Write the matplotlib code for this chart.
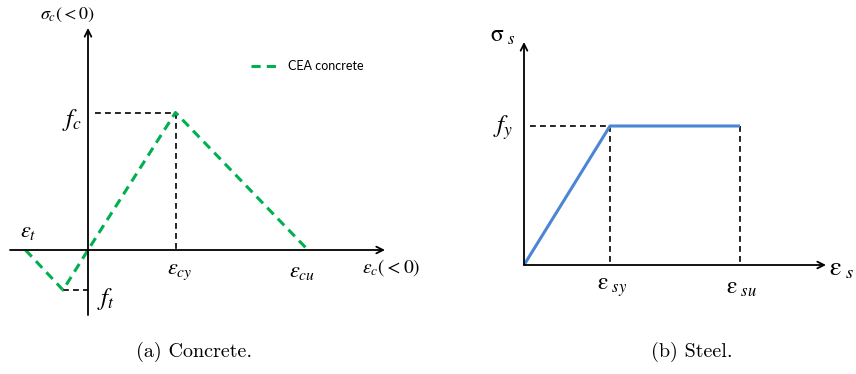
import matplotlib
matplotlib.use("Agg")
import matplotlib.pyplot as plt

plt.rcParams['mathtext.fontset'] = 'stix'

# concrete (CEA) stress-strain curve, arbitrary units
conc_strain = [-2.5, -1.0, 0.0, 3.5, 8.8]
conc_stress = [0.0, -1.6, 0.0, 5.5, 0.0]
eps_cy, f_c = 3.5, 5.5
eps_ft, f_t = -1.0, -1.6

# steel elastic-perfectly plastic curve
steel_strain = [0.0, 3.44, 8.64]
steel_stress = [0.0, 5.56, 5.56]
eps_sy, eps_su, f_y = 3.44, 8.64, 5.56

captions = ["(a) Concrete.", "(b) Steel."]

W, H = 856, 374
fig = plt.figure(figsize=(W / 100, H / 100), dpi=100)

arrow = dict(arrowstyle="->", color="black", lw=1.3, shrinkA=0, shrinkB=0,
             mutation_scale=12)
blk = dict(color="black", lw=1.2, dashes=(3.5, 2.5))


def arrow_axes(ax, x0, x1, y0, y1):
    ax.annotate("", xy=(x1, 0), xytext=(x0, 0), arrowprops=arrow)
    ax.annotate("", xy=(0, y1), xytext=(0, y0), arrowprops=arrow)


# ---- (a) concrete
ax1 = fig.add_axes([0, 44 / H, 430 / W, 330 / H])
ax1.set_xlim(-3.52, 13.68)
ax1.set_ylim(-3.2, 10.0)
ax1.axis("off")
arrow_axes(ax1, -3.12, 11.88, -2.6, 8.88)
ax1.plot([0.28, eps_cy], [f_c, f_c], **blk)
ax1.plot([eps_cy, eps_cy], [f_c, 0], **blk)
ax1.plot([eps_ft, 0], [f_t, f_t], **blk)
ax1.plot(conc_strain, conc_stress, color="#00B050", lw=2.2, dashes=(3, 2),
         label="CEA concrete")
leg = ax1.legend(loc="center left", bbox_to_anchor=(0.557, 0.80), frameon=False,
                 prop={"family": "Lato", "size": 9}, handlelength=2.2)

fs = 13
ax1.text(-0.8, 9.4, r"$\sigma_c(<0)$", fontsize=fs, ha="center", va="center")
ax1.text(-0.64, 5.2, r"$f_c$", fontsize=fs + 5, ha="center", va="center")
ax1.text(-2.4, 0.72, r"$\varepsilon_t$", fontsize=fs + 3, ha="center", va="center")
ax1.text(eps_cy + 0.18, -0.88, r"$\varepsilon_{cy}$", fontsize=fs + 3, ha="center", va="center")
ax1.text(8.56, -0.88, r"$\varepsilon_{cu}$", fontsize=fs + 3, ha="center", va="center")
ax1.text(12.12, -0.72, r"$\varepsilon_c(<0)$", fontsize=fs + 1, ha="center", va="center")
ax1.text(0.72, -1.95, r"$f_t$", fontsize=fs + 5, ha="center", va="center")

# ---- (b) steel
ax2 = fig.add_axes([430 / W, 44 / H, 426 / W, 330 / H])
ax2.set_xlim(-3.76, 13.28)
ax2.set_ylim(-2.6, 10.6)
ax2.axis("off")
arrow_axes(ax2, 0, 12.08, 0, 8.92)
ax2.plot([0.24, eps_sy], [f_y, f_y], **blk)
ax2.plot([eps_sy, eps_sy], [f_y, 0], **blk)
ax2.plot([eps_su, eps_su], [f_y, 0], **blk)
ax2.plot(steel_strain, steel_stress, color="#4A86D4", lw=2.2, solid_capstyle="butt")

ax2.text(-0.84, 9.2, r"$\mathrm{\sigma}_{\ s}$", fontsize=fs + 4, ha="center", va="center")
ax2.text(-0.84, 5.48, r"$f_y$", fontsize=fs + 5, ha="center", va="center")
ax2.text(eps_sy + 0.08, -0.88, r"$\mathrm{\varepsilon}_{\ sy}$", fontsize=fs + 4, ha="center", va="center")
ax2.text(eps_su + 0.08, -0.88, r"$\mathrm{\varepsilon}_{\ su}$", fontsize=fs + 4, ha="center", va="center")
ax2.text(12.7, -0.12, r"$\mathrm{\varepsilon}_{\ s}$", fontsize=fs + 6, ha="center", va="center")

# captions
fig.text(194 / W, 1 - 352 / H, captions[0], family="cmr10", fontsize=14.5, ha="center", va="center")
fig.text(692 / W, 1 - 352 / H, captions[1], family="cmr10", fontsize=14.5, ha="center", va="center")

fig.savefig("out.png", dpi=100)
